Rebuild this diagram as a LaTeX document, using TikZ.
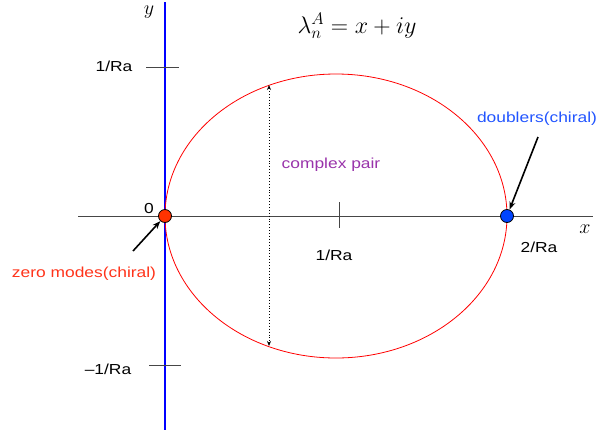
\documentclass[tikz,border=0pt]{standalone}
\usepackage{fix-cm}
\usepackage[no-math]{fontspec}
\setmainfont{Liberation Sans}
\usepackage{graphicx}
\usetikzlibrary{arrows.meta}
\newcommand\widetxt[1]{\scalebox{1.2}[1]{#1}}
\definecolor{zcol}{RGB}{255,51,26}
\definecolor{dcol}{RGB}{34,85,255}
\definecolor{pcol}{RGB}{153,51,170}
\definecolor{zdot}{RGB}{255,51,0}
\definecolor{ddot}{RGB}{0,68,255}
\definecolor{axgray}{RGB}{70,70,70}
\begin{document}
\begin{tikzpicture}[x=1pt,y=-1pt,
  lbl/.style={font=\fontsize{14.5}{16}\selectfont, anchor=base, inner sep=0pt},
  mathlbl/.style={font=\fontsize{20}{24}\selectfont, anchor=base, inner sep=0pt},
  tickline/.style={draw=axgray, line width=0.9pt},
  dotnode/.style={circle, draw=black, line width=0.8pt, minimum size=13pt, inner sep=0pt},
  pointer/.style={draw=black, line width=1.6pt, -{Stealth[length=8pt,width=6pt]}}]
\useasboundingbox (0,0) rectangle (599,437);

% axes
\draw[axgray, line width=1pt] (78,216) -- (593,216);
\draw[blue, line width=1.3pt] (165,2) -- (165,430);

% ticks
\draw[tickline] (146,67) -- (179,67);
\draw[tickline] (149,365) -- (181,365);
\draw[tickline] (339,202) -- (339,228);

% ellipse
\draw[red, line width=0.8pt] (336,216) ellipse [x radius=171pt, y radius=142pt];

% complex pair
\coordinate (pt) at (269,85);
\coordinate (pb) at (269,346);
\draw[black, line width=0.9pt, dotted, {Stealth[length=5pt,width=4pt]}-{Stealth[length=5pt,width=4pt]}] (pt) -- (pb);

% dots
\node[dotnode, fill=zdot] (z) at (165,216) {};
\node[dotnode, fill=ddot] (d) at (507,216) {};

% arrows
\coordinate (za) at (133,251);
\coordinate (da) at (538,137);
\draw[pointer] (za) -- (z);
\draw[pointer] (da) -- (d);

% labels
\node[lbl] (l1) at (114,71) {\widetxt{1/Ra}};
\node[lbl] (lm1) at (108,374) {\widetxt{\char"2013 1/Ra}};
\node[lbl] (lx1) at (334,260) {\widetxt{1/Ra}};
\node[lbl] (lx2) at (539,252) {\widetxt{2/Ra}};
\node[lbl] (l0) at (149,213) {\widetxt{0}};
\node[lbl, text=pcol] (cp) at (331,168) {\widetxt{complex pair}};
\node[lbl, text=dcol] (dl) at (537,122) {\widetxt{doublers(chiral)}};
\node[lbl, text=zcol] (zl) at (84,277) {\widetxt{zero modes(chiral)}};

\node[mathlbl] (xl) at (585,233) {$x$};
\node[mathlbl] (yl) at (149,14) {$y$};
\node[anchor=base, inner sep=0pt, font=\fontsize{24}{28}\selectfont] (f) at (357,33) {$\lambda_n^A = x + iy$};
\end{tikzpicture}
\end{document}
